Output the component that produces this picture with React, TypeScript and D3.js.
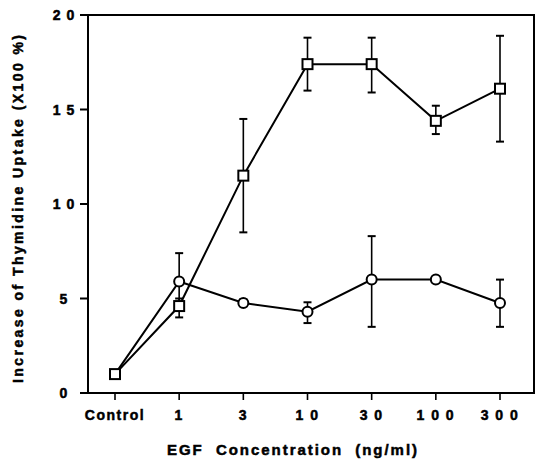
import React from "react";
import * as d3 from "d3";

const categories = ["Control", "1", "3", "10", "30", "100", "300"];
const tickLabels = ["Control", "1", "3", "1 0", "3 0", "1 0 0", "3 0 0"];
const yTicks = [0, 5, 10, 15, 20];
const yTickLabels = ["0", "5", "1 0", "1 5", "2 0"];

const squareMean = [1.0, 4.6, 11.5, 17.4, 17.4, 14.4, 16.1];
const squareHi = [1.0, 5.0, 14.5, 18.8, 18.8, 15.2, 18.9];
const squareLo = [1.0, 4.0, 8.5, 16.0, 15.9, 13.7, 13.3];

const circleMean = [1.0, 5.9, 4.76, 4.3, 6.0, 6.0, 4.76];
const circleHi = [1.0, 7.4, 4.95, 4.8, 8.3, 6.1, 6.0];
const circleLo = [1.0, 4.4, 4.6, 3.7, 3.5, 5.9, 3.5];

const W = 536;
const H = 461;
const frame = { left: 88, right: 534, top: 15, bottom: 393 };
const FONT = "'Liberation Sans', Arial, Helvetica, sans-serif";

export default function App() {
  const x = d3.scalePoint<string>().domain(categories).range([115, 500]);
  const y = d3.scaleLinear().domain([0, 20]).range([frame.bottom, frame.top]);

  const sqPts = categories.map((c, i) => ({ c, m: squareMean[i], hi: squareHi[i], lo: squareLo[i] }));
  const ciPts = categories.map((c, i) => ({ c, m: circleMean[i], hi: circleHi[i], lo: circleLo[i] }));

  const line = d3
    .line<{ c: string; m: number }>()
    .x((d) => x(d.c) as number)
    .y((d) => y(d.m));

  const errBars = (pts: typeof sqPts, key: string) =>
    pts.map((d, i) => {
      if (d.hi === d.lo) return null;
      const cx = x(d.c) as number;
      return (
        <g key={key + i}>
          <line x1={cx} x2={cx} y1={y(d.hi)} y2={y(d.lo)} stroke="#000" strokeWidth={1.6} />
          {d.hi - d.m > 0.15 && (
            <line x1={cx - 4} x2={cx + 4} y1={y(d.hi)} y2={y(d.hi)} stroke="#000" strokeWidth={2} />
          )}
          {d.m - d.lo > 0.15 && (
            <line x1={cx - 4} x2={cx + 4} y1={y(d.lo)} y2={y(d.lo)} stroke="#000" strokeWidth={2} />
          )}
        </g>
      );
    });

  const heavy = { stroke: "#000", strokeWidth: 0.5 };

  return (
    <svg
      width={W}
      height={H}
      style={{ position: "absolute", left: 0, top: 0, background: "#fff" }}
      fontFamily={FONT}
    >
      <rect x={0} y={0} width={W} height={H} fill="#fff" />
      {/* frame */}
      <rect
        x={frame.left}
        y={frame.top}
        width={frame.right - frame.left}
        height={frame.bottom - frame.top}
        fill="none"
        stroke="#000"
        strokeWidth={2}
      />
      {/* y ticks */}
      {yTicks.map((t, i) => (
        <g key={"yt" + i}>
          <line x1={frame.left - 8} x2={frame.left} y1={y(t)} y2={y(t)} stroke="#000" strokeWidth={2} />
          <text
            x={64}
            y={y(t)}
            dy="0.36em"
            textAnchor="middle"
            fontSize={14}
            fontWeight={700}
            letterSpacing={1}
            {...heavy}
          >
            {yTickLabels[i]}
          </text>
        </g>
      ))}
      {/* x ticks */}
      {categories.map((c, i) => (
        <g key={"xt" + i}>
          <line
            x1={x(c) as number}
            x2={x(c) as number}
            y1={frame.bottom}
            y2={frame.bottom + 7}
            stroke="#000"
            strokeWidth={1.6}
          />
          <text
            x={x(c) as number}
            y={420}
            textAnchor="middle"
            fontSize={14}
            fontWeight={700}
            letterSpacing={1.5}
            {...heavy}
          >
            {tickLabels[i]}
          </text>
        </g>
      ))}
      {/* axis titles */}
      <text
        x={292}
        y={455}
        textAnchor="middle"
        fontSize={15}
        fontWeight={700}
        textLength={250}
        lengthAdjust="spacing"
        style={{ whiteSpace: "pre" }}
        {...heavy}
      >
        {"EGF  Concentration  (ng/ml)"}
      </text>
      <text
        transform="translate(23,209) rotate(-90)"
        textAnchor="middle"
        fontSize={14}
        fontWeight={700}
        textLength={348}
        lengthAdjust="spacing"
        {...heavy}
      >
        Increase of Thymidine Uptake (X100 %)
      </text>
      {/* error bars */}
      {errBars(sqPts, "se")}
      {errBars(ciPts, "ce")}
      {/* lines */}
      <path d={line(sqPts) || ""} fill="none" stroke="#000" strokeWidth={2} />
      <path d={line(ciPts) || ""} fill="none" stroke="#000" strokeWidth={2} />
      {/* circle markers */}
      {ciPts.slice(1).map((d, i) => (
        <circle
          key={"c" + i}
          cx={x(d.c) as number}
          cy={y(d.m)}
          r={5}
          fill="#fff"
          stroke="#000"
          strokeWidth={2}
        />
      ))}
      {/* square markers */}
      {sqPts.map((d, i) => (
        <rect
          key={"s" + i}
          x={(x(d.c) as number) - 5}
          y={y(d.m) - 5}
          width={10}
          height={10}
          fill="#fff"
          stroke="#000"
          strokeWidth={2}
        />
      ))}
    </svg>
  );
}
